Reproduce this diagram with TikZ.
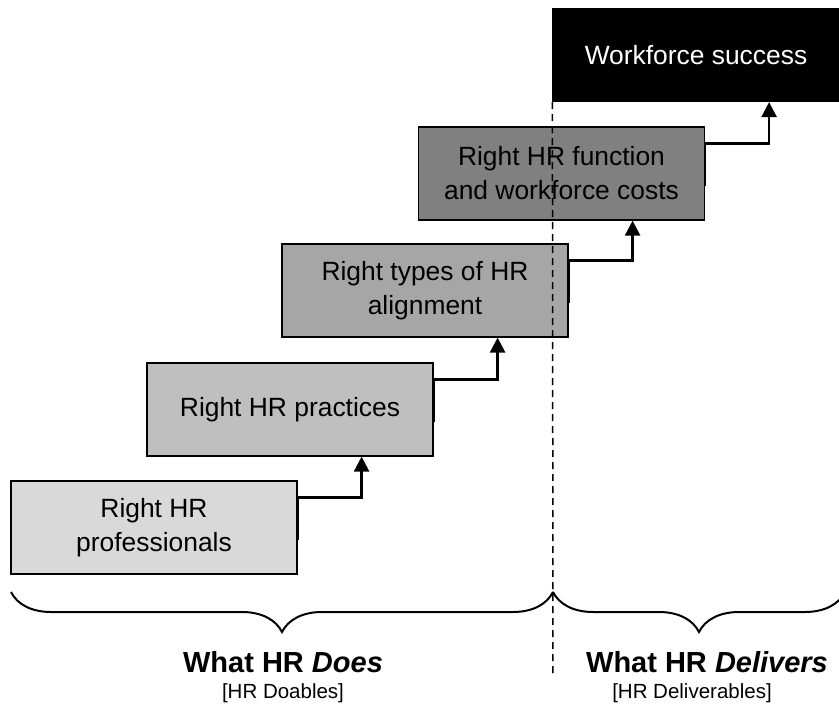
\documentclass[tikz,border=0pt]{standalone}
\usepackage{fontspec}
\setmainfont{Liberation Sans}
\usetikzlibrary{arrows.meta, decorations.pathreplacing}

\begin{document}
\begin{tikzpicture}[x=1pt, y=-1pt,
	stepbox/.style={draw=black, line width=1.2pt, minimum width=286pt, minimum height=93pt,
		inner sep=0pt, align=center, font=\fontsize{26.4}{34}\selectfont},
	link/.style={line width=2.5pt, -{Triangle[width=15pt, length=15pt]}},
	divider/.style={line width=1.5pt, dash pattern=on 7pt off 5pt},
	bracket/.style={line width=2pt, decorate, decoration={brace, mirror, amplitude=40pt}},
	heading/.style={font=\fontsize{29}{34}\selectfont\bfseries},
	subheading/.style={font=\fontsize{20.5}{24}\selectfont}]
	\clip (0, 0) rectangle (839, 709);

	% steps
	\node[stepbox, fill=gray!30] (b1) at (154, 527.5) {Right HR\\professionals};
	\node[stepbox, fill=gray!50] (b2) at (290, 409.5) {Right HR practices};
	\node[stepbox, fill=gray!70] (b3) at (425, 290.5) {Right types of HR\\alignment};
	\node[stepbox, fill=gray] (b4) at (561.5, 173.5) {Right HR function\\and workforce costs};
	\node[stepbox, fill=black, text=white] (b5) at (696, 55) {Workforce success};

	% links between the steps
	\foreach \a/\b in {b1/b2, b2/b3, b3/b4, b4/b5}
		\draw[link] ([yshift=-60pt]\a.north east) -- ([yshift=-17pt]\a.north east)
			-- ++(64pt, 0) coordinate (k) -- (k |- \b.south);

	% dividing line
	\coordinate (dbot) at (553, 677);
	\draw[divider] (b5.south west) -- (dbot);

	% braces
	\coordinate (l1) at (11, 592);
	\coordinate (l2) at (553, 592);
	\coordinate (l3) at (845, 592);
	\draw[bracket] (l1) -- (l2);
	\draw[bracket] (l2) -- (l3);

	% labels
	\node[heading] (does) at (283, 662) {What HR \textit{Does}};
	\node[subheading] (doables) at (283, 693) {[HR Doables]};
	\node[heading] (delivers) at (707, 662) {What HR \textit{Delivers}};
	\node[subheading] (deliverables) at (692, 693) {[HR Deliverables]};
\end{tikzpicture}
\end{document}
